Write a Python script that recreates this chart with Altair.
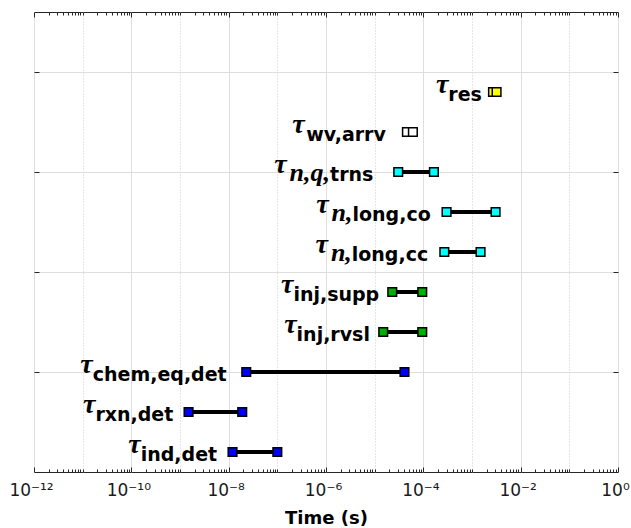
import altair as alt
import pandas as pd

# ---------------- data ----------------
rows = [10, 9, 8, 7, 6, 5, 4, 3, 2, 1]
sub_labels = ["res", "wv,arrv", "trns", "long,co", "long,cc",
              "inj,supp", "inj,rvsl", "chem,eq,det", "rxn,det", "ind,det"]
math_labels = ["", "", "n,q,", "n,", "n,", "", "", "", "", ""]
t_start = [2.7e-3, 4.6e-5, 3.05e-5, 3.0e-4, 2.7e-4, 2.3e-5, 1.5e-5, 2.3e-8, 1.5e-9, 1.2e-8]
t_end = [3.2e-3, 6.1e-5, 1.65e-4, 3.05e-3, 1.5e-3, 9.5e-5, 9.5e-5, 4.1e-5, 1.9e-8, 1.0e-7]
label_end = [1.6e-3, 1.7e-5, 9.4e-6, 1.42e-4, 1.26e-4, 1.24e-5, 8.0e-6, 9.1e-9, 7.3e-10, 5.8e-9]
groups = ["res", "wv", "n", "n", "n", "inj", "inj", "det", "det", "det"]

group_names = ["res", "wv", "n", "inj", "det"]
group_colors = ["#ffff00", "#ffffff", "#00ffff", "#00b000", "#0000ff"]

x_tick_values = [1e-12, 1e-10, 1e-8, 1e-6, 1e-4, 1e-2, 1.0]
x_tick_labels = ["10⁻¹²", "10⁻¹⁰", "10⁻⁸", "10⁻⁶", "10⁻⁴", "10⁻²", "10⁰"]
x_odd_decades = [1e-11, 1e-9, 1e-7, 1e-5, 1e-3, 1e-1]
y_tick_values = [3, 5.5, 8, 10.5]

# minor tick positions of the log axis (2..9 x each decade)
x_minor = [k * 10.0 ** d for d in range(-12, 0) for k in range(2, 10)] + x_odd_decades

PLOT_W, PLOT_H = 584, 460
X_DECADES = 12

# ---------------- text width estimates (for composing the tau labels) ----------------
SUB_SIZE, MATH_SIZE, TAU_SIZE = 19, 26, 28
SANS_BOLD_EM = {'a': 0.675, 'c': 0.590, 'd': 0.716, 'e': 0.678, 'g': 0.716, 'h': 0.712,
                'i': 0.343, 'j': 0.343, 'l': 0.343, 'm': 1.042, 'n': 0.712, 'o': 0.687,
                'p': 0.716, 'q': 0.716, 'r': 0.493, 's': 0.595, 't': 0.478, 'u': 0.712,
                'v': 0.652, 'w': 0.924, 'x': 0.645, ',': 0.380}
SERIF_BI_EM = {'n': 0.556, 'q': 0.5, ',': 0.25}


def width(s, table, size):
    return sum(table.get(ch, 0.6) for ch in s) * size


px_per_decade = PLOT_W / X_DECADES
sub_w = [width(s, SANS_BOLD_EM, SUB_SIZE) for s in sub_labels]
math_w = [width(s, SERIF_BI_EM, MATH_SIZE) + (3 if s else 0) for s in math_labels]
math_x = [le * 10 ** (-sw / px_per_decade) for le, sw in zip(label_end, sub_w)]
tau_x = [le * 10 ** (-(sw + mw) / px_per_decade) for le, sw, mw in zip(label_end, sub_w, math_w)]

df = pd.DataFrame({
    "row": rows, "start": t_start, "end": t_end, "label_end": label_end,
    "math_x": math_x, "tau_x": tau_x,
    "sub": sub_labels, "math": math_labels, "group": groups,
})

label_expr = "[" + ",".join("'%s'" % s for s in x_tick_labels) + "][round((log(datum.value)/LN10 + 12)/2)]"

AX = "#262626"
x_scale = alt.Scale(type="log", domain=[1e-12, 1.0], nice=False)
y_scale = alt.Scale(domain=[0.5, 12], nice=False, zero=False)

base = alt.Chart(df)

# main layer: bars + bottom labelled axis + left axis
bars = base.mark_rule(strokeWidth=4, color="black").encode(
    x=alt.X("start:Q", scale=x_scale, axis=alt.Axis(
        orient="bottom", values=x_tick_values, labelExpr=label_expr,
        grid=True, gridColor="#dedede", gridWidth=1,
        ticks=True, tickSize=5, tickColor=AX, tickWidth=1, offset=-5,
        domain=False, labelFont="DejaVu Sans", labelFontSize=17, labelColor="#1a1a1a",
        labelPadding=10, labelOffset=-3, labelFlush=False, labelOverlap=False,
        title="Time (s)", titleFont="DejaVu Sans", titleFontSize=18, titleFontWeight="bold",
        titleColor="black", titlePadding=11)),
    x2="end:Q",
    y=alt.Y("row:Q", scale=y_scale, axis=alt.Axis(
        orient="left", values=y_tick_values, labels=False, grid=True,
        gridColor="#dedede", ticks=True, tickSize=5, tickColor=AX, offset=-5,
        domain=False, title=None)),
)

inv = dict(opacity=0)

odd_grid = base.mark_point(**inv).encode(
    x=alt.X("start:Q", scale=x_scale, axis=alt.Axis(
        orient="bottom", values=x_odd_decades, labels=False, ticks=False, domain=False,
        grid=True, gridColor="#cccccc", gridDash=[1, 2], gridWidth=1, title=None)),
    y=alt.Y("row:Q", scale=y_scale, axis=None),
)

minor_bottom = base.mark_point(**inv).encode(
    x=alt.X("start:Q", scale=x_scale, axis=alt.Axis(
        orient="bottom", values=x_minor, labels=False, ticks=True, tickSize=3, offset=-3,
        tickColor=AX, domain=False, grid=False, title=None)),
    y=alt.Y("row:Q", scale=y_scale, axis=None),
)

major_top = base.mark_point(**inv).encode(
    x=alt.X("start:Q", scale=x_scale, axis=alt.Axis(
        orient="top", values=x_tick_values, labels=False, ticks=True, tickSize=5, offset=-5,
        tickColor=AX, domain=False, grid=False, title=None)),
    y=alt.Y("row:Q", scale=y_scale, axis=None),
)

minor_top = base.mark_point(**inv).encode(
    x=alt.X("start:Q", scale=x_scale, axis=alt.Axis(
        orient="top", values=x_minor, labels=False, ticks=True, tickSize=3, offset=-3,
        tickColor=AX, domain=False, grid=False, title=None)),
    y=alt.Y("row:Q", scale=y_scale, axis=None),
)

right_axis = base.mark_point(**inv).encode(
    x=alt.X("start:Q", scale=x_scale, axis=None),
    y=alt.Y("row:Q", scale=y_scale, axis=alt.Axis(
        orient="right", values=y_tick_values, labels=False, ticks=True, tickSize=5, offset=-5,
        tickColor=AX, domain=False, grid=False, title=None)),
)

points = base.transform_fold(["start", "end"], as_=["which", "t"]).mark_point(
    shape="square", filled=True, size=75, stroke="black", strokeWidth=1.5, opacity=1
).encode(
    x=alt.X("t:Q", scale=x_scale, axis=None),
    y=alt.Y("row:Q", scale=y_scale, axis=None),
    fill=alt.Fill("group:N", scale=alt.Scale(domain=group_names, range=group_colors), legend=None),
)

sub_text = base.mark_text(align="right", baseline="alphabetic", dy=9, font="DejaVu Sans",
                          fontWeight="bold", fontSize=SUB_SIZE, color="black").encode(
    x=alt.X("label_end:Q", scale=x_scale, axis=None),
    y=alt.Y("row:Q", scale=y_scale, axis=None),
    text="sub:N",
)

math_text = base.mark_text(align="right", baseline="alphabetic", dy=9, font="Liberation Serif",
                           fontStyle="italic", fontWeight="bold", fontSize=MATH_SIZE, color="black").encode(
    x=alt.X("math_x:Q", scale=x_scale, axis=None),
    y=alt.Y("row:Q", scale=y_scale, axis=None),
    text="math:N",
)

tau_text = base.transform_calculate(tau="'τ'").mark_text(
    align="right", baseline="alphabetic", dy=1, font="Liberation Serif",
    fontStyle="italic", fontWeight="bold", fontSize=TAU_SIZE, color="black").encode(
    x=alt.X("tau_x:Q", scale=x_scale, axis=None),
    y=alt.Y("row:Q", scale=y_scale, axis=None),
    text="tau:N",
)

chart = alt.layer(
    bars, odd_grid, minor_bottom, major_top, minor_top, right_axis,
    points, sub_text, math_text, tau_text
).resolve_axis(x="independent", y="independent").properties(
    width=PLOT_W, height=PLOT_H,
    autosize=alt.AutoSizeParams(type="none"),
    padding={"left": 34, "top": 12, "right": 13, "bottom": 56},
    background="white",
).configure_view(stroke=AX, strokeWidth=1)

chart.save("out.html", embed_options={"renderer": "svg", "actions": False})
